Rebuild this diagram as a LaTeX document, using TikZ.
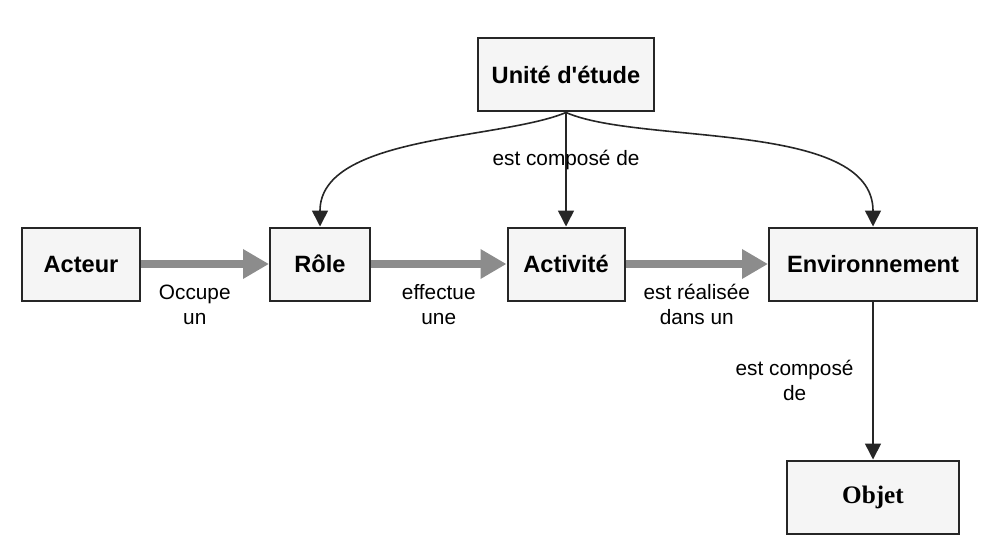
\documentclass[tikz,border=0pt]{standalone}
\usepackage{fontspec}
\setmainfont{Liberation Sans}[Ligatures=TeXOff]
\newfontfamily\objfont{Liberation Serif}
\usetikzlibrary{arrows.meta}

\begin{document}
\begin{tikzpicture}[x=0.5pt, y=-0.5pt,
    box/.style={draw=black!85, line width=1pt, fill=black!4, inner sep=0pt,
        minimum height=36.5pt, font=\fontsize{11.8}{13}\selectfont\bfseries},
    flow/.style={-{Triangle[length=13pt,width=14pt]}, line width=4pt, draw=black!45},
    link/.style={-{Triangle[length=8pt,width=8pt]}, line width=0.8pt, draw=black!85},
    lbl/.style={font=\fontsize{10.4}{12.5}\selectfont, align=center}]
    \useasboundingbox (0,0) rectangle (983,545);

    \node[box, minimum width=88pt] (unite) at (566,75) {Unité d'étude};
    \node[box, minimum width=59pt] (acteur) at (81,264) {Acteur};
    \node[box, minimum width=50pt] (role) at (320,264) {Rôle};
    \node[box, minimum width=58.5pt] (activite) at (566,264) {Activité};
    \node[box, minimum width=104pt] (env) at (873,264) {Environnement};
    \node[box, minimum width=86pt, font=\objfont\fontsize{12.6}{14}\selectfont\bfseries] (objet) at (873,497) {Objet};

    % flux principaux
    \draw[flow] (acteur) -- node[lbl, below=5pt, pos=0.42] (occupe) {Occupe\\un} (role);
    \draw[flow] (role) -- node[lbl, below=5pt] (effectue) {effectue\\une} (activite);
    \draw[flow] (activite) -- node[lbl, below=5pt] (realisee) {est réalisée\\dans un} (env);

    % composition
    \draw[link] (unite.south) .. controls (500,140) and (320,135) .. (role.north);
    \draw[link] (unite.south) -- node[lbl, pos=0.42] (compose) {est composé de} (activite.north);
    \draw[link] (unite.south) .. controls (640,145) and (873,120) .. (env.north);
    \draw[link] (env) -- node[lbl, left=6pt] (composeobj) {est composé\\de} (objet);
\end{tikzpicture}
\end{document}
